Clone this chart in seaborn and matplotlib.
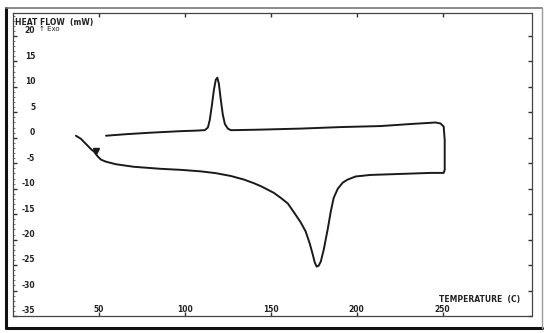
import numpy as np
import pandas as pd
import matplotlib
matplotlib.use("Agg")
import matplotlib.pyplot as plt
from matplotlib.lines import Line2D
import matplotlib.transforms as mtransforms
import seaborn as sns

# DSC trace: heating run, jump at the end, then cooling run
temperature = [36.6, 39.5, 42.4, 45.3, 47.1, 49.4, 51.2, 54.1, 59.9, 70.3, 86.0, 97.7,
               109.3, 118.0, 126.7, 134.3, 140.0, 144.2, 151.7, 155.8, 159.9, 163.4, 167.4,
               170.3, 172.7, 174.4, 175.6, 176.7, 177.9, 179.1, 180.8, 183.1, 184.9,
               186.6, 189.0, 191.9, 194.8, 199.4, 208.0, 225.6, 243.0, 250.6, 251.2,
               251.2, 250.6, 248.8, 245.9, 231.4, 214.0, 190.7, 167.4, 144.2, 129.7,
               126.7, 125.0, 123.3, 122.1, 120.9, 119.8, 118.9, 118.0, 116.9, 115.7,
               114.5, 113.4, 111.6, 106.4, 97.7, 80.2, 65.7, 54.1]
heat_flow = [0.4, -0.2, -1.2, -2.2, -2.7, -3.7, -4.3, -4.7, -5.2, -5.7, -6.1, -6.3,
             -6.6, -6.95, -7.5, -8.2, -8.9, -9.5, -10.8, -11.8, -12.9, -14.6, -16.6,
             -18.4, -20.8, -22.9, -24.5, -25.3, -25.1, -24.3, -22.0, -18.0, -14.5,
             -11.8, -10.0, -8.8, -8.2, -7.6, -7.3, -7.1, -6.9, -6.9, -6.3,
             -0.4, 2.2, 2.8, 3.0, 2.7, 2.3, 2.1, 1.8, 1.6, 1.5,
             1.5, 1.8, 2.7, 4.5, 7.5, 10.6, 11.8, 11.4, 9.4, 6.3,
             3.5, 2.0, 1.5, 1.4, 1.3, 1.0, 0.7, 0.4]

x_ticks = [50, 100, 150, 200, 250]
y_ticks = [20, 15, 10, 5, 0, -5, -10, -15, -20, -25, -30, -35]
tg_temp = 48.5
tg_flow = -2.6

df = pd.DataFrame({"T": temperature, "HF": heat_flow})

sns.set_style("white")
plt.rcParams['font.family'] = ['DejaVu Sans']

W, H = 546, 333
fig = plt.figure(figsize=(W / 100, H / 100), dpi=100)
ax = fig.add_axes([13 / W, 1 - 316 / H, (532 - 13) / W, (316 - 13) / H])

sns.lineplot(data=df, x="T", y="HF", sort=False, estimator=None, color="#1a1a1a",
             linewidth=1.4, ax=ax, legend=False)
ax.plot([tg_temp], [tg_flow], marker="v", markersize=4, color="#1a1a1a")

ax.set_xlim(0, 302)
ax.set_ylim(-35, 24.5)
ax.set_xlabel("")
ax.set_ylabel("")

for side in ["left", "right", "top", "bottom"]:
    ax.spines[side].set_visible(True)
    ax.spines[side].set_linestyle((0, (1, 1)))
    ax.spines[side].set_color("#444444")
    ax.spines[side].set_linewidth(0.9)

ax.set_xticks(x_ticks)
ax.set_yticks(y_ticks)
ax.set_xticklabels([])
ax.set_yticklabels([])
ax.set_yticks(np.arange(-35, 25, 1), minor=True)
ax.tick_params(axis="both", which="major", direction="in", length=3, width=1,
               color="#333333", left=True, right=True, bottom=True, top=True)
ax.tick_params(axis="y", which="minor", direction="in", length=1.5, width=0.6,
               color="#666666", left=True)

font = dict(fontsize=5.5, fontweight="bold", color="#222222")
ytrans = mtransforms.blended_transform_factory(ax.transAxes, ax.transData)
for v in y_ticks:
    ax.text(0.043, v + 1.0, str(v), ha="right", va="center", transform=ytrans, **font)
xtrans = mtransforms.blended_transform_factory(ax.transData, ax.transAxes)
for v in x_ticks:
    ax.text(v, 0.021, str(v), ha="center", va="center", transform=xtrans, **font)

ax.text(0.004, 0.985, "HEAT FLOW  (mW)", transform=ax.transAxes, ha="left", va="top",
        **font)
ax.text(0.05, 0.948, "↑ Exo", transform=ax.transAxes, ha="left", va="center",
        fontsize=5, color="#222222")
ax.text(0.978, 0.056, "TEMPERATURE  (C)", transform=ax.transAxes, ha="right",
        va="center", **font)

# outer border of the scanned sheet
def fl(x0, y0, x1, y1, **kw):
    fig.add_artist(Line2D([x0 / W, x1 / W], [1 - y0 / H, 1 - y1 / H],
                          transform=fig.transFigure, **kw))

fl(6, 8, 6, 328, color="#111111", linewidth=2.2)
fl(6, 328, 542, 328, color="#111111", linewidth=2.2)
fl(6, 8, 542, 8, color="#777777", linewidth=1.2)
fl(542, 8, 542, 328, color="#999999", linewidth=1.0)

fig.savefig("out.png", dpi=100)
